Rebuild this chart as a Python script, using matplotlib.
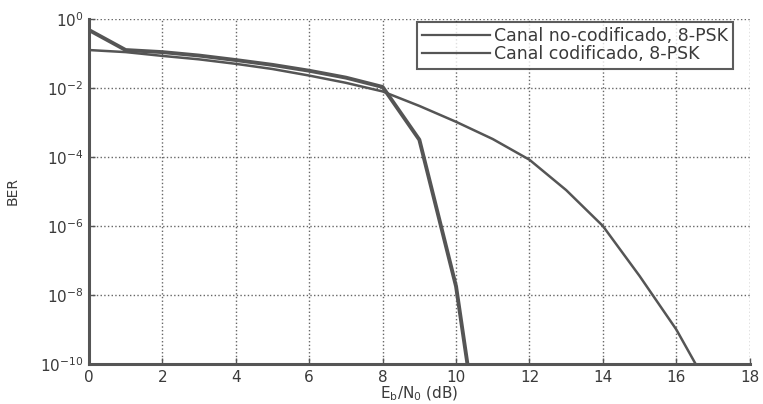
import numpy as np
import matplotlib
matplotlib.use('Agg')
import matplotlib.pyplot as plt

# Eb/N0 (dB) and log10(BER)
ebno_unc = [0, 1, 2, 3, 4, 5, 6, 7, 8, 9, 10, 11, 12, 13, 14, 15, 16, 17]
logber_unc = [-0.90, -0.96, -1.07, -1.17, -1.30, -1.45, -1.64, -1.85, -2.10,
              -2.52, -2.98, -3.48, -4.08, -4.96, -6.00, -7.45, -9.00, -10.9]

ebno_cod = [0, 1, 2, 3, 4, 5, 6, 7, 8, 9, 10, 11]
logber_cod = [-0.32, -0.90, -0.96, -1.06, -1.19, -1.33, -1.50, -1.70, -1.97,
              -3.50, -7.75, -15.0]

labels = ['Canal no-codificado, 8-PSK', 'Canal codificado, 8-PSK']

plt.rcParams['font.family'] = ['DejaVu Sans']
plt.rcParams['mathtext.fontset'] = 'dejavusans'
txt = '#3a3a3a'

fig = plt.figure(figsize=(7.63, 4.04), dpi=100)
ax = fig.add_axes([0.1166, 0.099, 0.866, 0.854])

ax.semilogy(ebno_unc, 10.0 ** np.array(logber_unc), color='#555555', lw=1.8, label=labels[0])
ax.semilogy(ebno_cod, 10.0 ** np.array(logber_cod), color='#555555', lw=2.8, label=labels[1])

ax.set_xlim(0, 18)
ax.set_ylim(1e-10, 1)
ax.set_xticks(range(0, 19, 2))
ax.set_yticks([1e0, 1e-2, 1e-4, 1e-6, 1e-8, 1e-10])
ax.minorticks_off()
ax.grid(True, which='major', linestyle=':', color='#666666', lw=1.0)

for s in ['top', 'right']:
    ax.spines[s].set_visible(False)
for s in ['left', 'bottom']:
    ax.spines[s].set_linewidth(2.2)
    ax.spines[s].set_color('#555555')

ax.tick_params(direction='in', length=4, width=1, colors='#555555',
               labelcolor=txt, labelsize=11, pad=4)
ax.set_xlabel('E$_\\mathrm{b}$/N$_\\mathrm{0}$ (dB)', fontsize=11, color=txt, labelpad=0)
ax.set_ylabel('BER', fontsize=10, color=txt)
ax.yaxis.set_label_coords(-0.105, 0.5)

leg = ax.legend(loc='upper right', bbox_to_anchor=(0.975, 0.991), fontsize=12.5,
                frameon=True, fancybox=False, handlelength=3.9, handletextpad=0.25,
                borderaxespad=0.0, borderpad=0.3, labelspacing=0.0)
leg.get_frame().set_edgecolor('#333333')
leg.get_frame().set_linewidth(1.5)
for t in leg.get_texts():
    t.set_color(txt)
for h in leg.get_lines():
    h.set_linewidth(1.6)

fig.savefig('out.png', dpi=100)
